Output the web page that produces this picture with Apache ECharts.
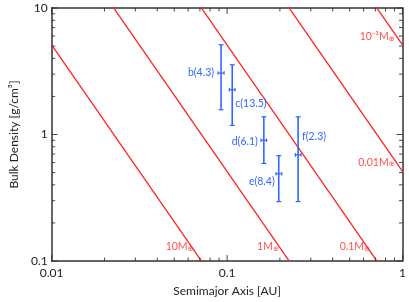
<!DOCTYPE html>
<html><head><meta charset="utf-8">
<script src="https://cdn.jsdelivr.net/npm/echarts@6/dist/echarts.min.js"></script>
<style>html,body{margin:0;padding:0;background:#fff}#c{width:409px;height:302px}</style>
</head><body><div id="c"></div>
<script>
// ---- data ----
const planets   = ['b', 'c', 'd', 'e', 'f'];
const planetMass = ['4.3', '13.5', '6.1', '8.4', '2.3'];
const semimajor = [0.0924, 0.107, 0.162, 0.197, 0.254];
const aLow      = [0.0888, 0.103, 0.156, 0.190, 0.245];
const aHigh     = [0.0961, 0.111, 0.168, 0.205, 0.264];
const density   = [3.06, 2.26, 0.90, 0.49, 0.69];
const densLow   = [1.57, 1.18, 0.59, 0.295, 0.295];
const densHigh  = [5.12, 3.56, 1.38, 0.68, 1.38];

// constant-mass lines: density at a = 0.01 AU and a = 1 AU
const massLabels   = ['10', '1', '0.1', '0.01', '10⁻³'];
const lineA        = [0.01, 1];
const lineDensAt001 = [5.1, 51, 510, 5100, 51000];
const lineDensAt1   = [0.00051, 0.0051, 0.051, 0.51, 5.1];

// axis ticks
const xMajor = [0.01, 0.1, 1];
const yMajor = [0.1, 1, 10];
const xMinor = [0.02,0.03,0.04,0.05,0.06,0.07,0.08,0.09,0.2,0.3,0.4,0.5,0.6,0.7,0.8,0.9];
const yMinor = [0.2,0.3,0.4,0.5,0.6,0.7,0.8,0.9,2,3,4,5,6,7,8,9];

// ---- styling / layout ----
const RED = '#ff2222', BLUE = '#3366ff', FRAME = '#333333';
const FONT = 'Lato';
const X_MIN = 0.01, X_MAX = 1, Y_MIN = 0.1, Y_MAX = 10;
const massLabelPos = [[0.0643, 0.129], [0.197, 0.129], [0.652, 0.129], [0.90, 0.60], [0.90, 5.9]];
// [side, dx, dy] for each planet label
const planetLabelLayout = [['left', -7, 0], ['right', 3, 14], ['left', -6, 1], ['left', -4, 8], ['right', 4, -18]];

const chart = echarts.init(document.getElementById('c'), null, {renderer: 'canvas'});

const lineSeries = massLabels.map((m, i) => ({
  type: 'line', clip: true, silent: true, symbol: 'none',
  lineStyle: {color: RED, width: 1.3},
  data: [[lineA[0], lineDensAt001[i]], [lineA[1], lineDensAt1[i]]],
  z: 2
}));

const massLabelSeries = {
  type: 'scatter', symbolSize: 0, silent: true, z: 3,
  data: massLabels.map((m, i) => ({value: massLabelPos[i], name: m})),
  label: {
    show: true, position: 'left', distance: 0,
    formatter: p => '{a|' + p.name + 'M}{b|⊕}',
    rich: {
      a: {color: RED, fontSize: 10.5, fontFamily: FONT},
      b: {color: RED, fontSize: 7, fontFamily: 'DejaVu Sans', verticalAlign: 'bottom', padding: [4, 0, 0, 0]}
    }
  }
};

const errData = planets.map((p, i) => ({
  value: [semimajor[i], density[i], aLow[i], aHigh[i], densLow[i], densHigh[i], i],
  name: p + '(' + planetMass[i] + ')'
}));

const errSeries = {
  type: 'custom', z: 4, silent: true,
  encode: {x: 0, y: 1},
  data: errData,
  renderItem: (params, api) => {
    const x = api.value(0), y = api.value(1);
    const idx = params.dataIndex;
    const c = api.coord([x, y]);
    const t = api.coord([x, api.value(5)]);
    const b = api.coord([x, api.value(4)]);
    const l = api.coord([api.value(2), y]);
    const r = api.coord([api.value(3), y]);
    const st = {stroke: BLUE, lineWidth: 1.6};
    const st2 = {stroke: BLUE, lineWidth: 1.2};
    const lay = planetLabelLayout[idx];
    return {type: 'group', children: [
      {type: 'line', shape: {x1: c[0], y1: t[1], x2: c[0], y2: b[1]}, style: st},
      {type: 'line', shape: {x1: c[0]-2.5, y1: t[1], x2: c[0]+2.5, y2: t[1]}, style: st2},
      {type: 'line', shape: {x1: c[0]-2.5, y1: b[1], x2: c[0]+2.5, y2: b[1]}, style: st2},
      {type: 'line', shape: {x1: l[0], y1: c[1], x2: r[0], y2: c[1]}, style: st2},
      {type: 'line', shape: {x1: l[0], y1: c[1]-1.8, x2: l[0], y2: c[1]+1.8}, style: st2},
      {type: 'line', shape: {x1: r[0], y1: c[1]-1.8, x2: r[0], y2: c[1]+1.8}, style: st2},
      {type: 'text', x: c[0] + lay[1], y: c[1] + lay[2], style: {
        text: errData[idx].name, fill: BLUE, fontSize: 10.5, fontFamily: FONT,
        align: lay[0] === 'left' ? 'right' : 'left', verticalAlign: 'middle'}}
    ]};
  }
};

// tick marks on all four sides as tiny rect symbols placed through the axes
function tickMarks(values, isX, len) {
  const pts = [];
  values.forEach(v => {
    if (isX) {
      pts.push({value: [v, Y_MIN], symbolSize: [1, len], symbolOffset: [0, -len / 2]});
      pts.push({value: [v, Y_MAX], symbolSize: [1, len], symbolOffset: [0, len / 2]});
    } else {
      pts.push({value: [X_MIN, v], symbolSize: [len, 1], symbolOffset: [len / 2, 0]});
      pts.push({value: [X_MAX, v], symbolSize: [len, 1], symbolOffset: [-len / 2, 0]});
    }
  });
  return {
    type: 'scatter', symbol: 'rect', clip: false, silent: true, z: 6,
    itemStyle: {color: FRAME, opacity: 0.9},
    data: pts
  };
}

const axisCommon = {
  type: 'log', logBase: 10,
  axisLine: {show: true, lineStyle: {color: FRAME, width: 1.5}},
  axisTick: {show: false},
  splitLine: {show: false},
  minorTick: {show: false}
};

chart.setOption({
  animation: false,
  grid: {left: 49, right: 6, top: 8, bottom: 40, containLabel: false},
  xAxis: [
    Object.assign({}, axisCommon, {
      min: X_MIN, max: X_MAX, position: 'bottom',
      name: 'Semimajor Axis [AU]', nameLocation: 'middle', nameGap: 24,
      nameTextStyle: {color: '#222', fontSize: 12, fontFamily: FONT},
      axisLabel: {color: '#222', fontSize: 12, fontFamily: FONT, margin: 6, formatter: v => String(+v.toPrecision(3))}
    }),
    Object.assign({}, axisCommon, {min: X_MIN, max: X_MAX, position: 'top', axisLabel: {show: false}})
  ],
  yAxis: [
    Object.assign({}, axisCommon, {
      min: Y_MIN, max: Y_MAX, position: 'left',
      name: 'Bulk Density [g/cm³]', nameLocation: 'middle', nameGap: 31, nameRotate: 90,
      nameTextStyle: {color: '#222', fontSize: 12, fontFamily: FONT},
      axisLabel: {color: '#222', fontSize: 12, fontFamily: FONT, margin: 4, formatter: v => String(+v.toPrecision(3))}
    }),
    Object.assign({}, axisCommon, {min: Y_MIN, max: Y_MAX, position: 'right', axisLabel: {show: false}})
  ],
  series: [
    ...lineSeries,
    massLabelSeries,
    errSeries,
    tickMarks(xMajor, true, 6),
    tickMarks(xMinor, true, 3.5),
    tickMarks(yMajor, false, 6),
    tickMarks(yMinor, false, 3.5)
  ]
});
</script></body></html>
